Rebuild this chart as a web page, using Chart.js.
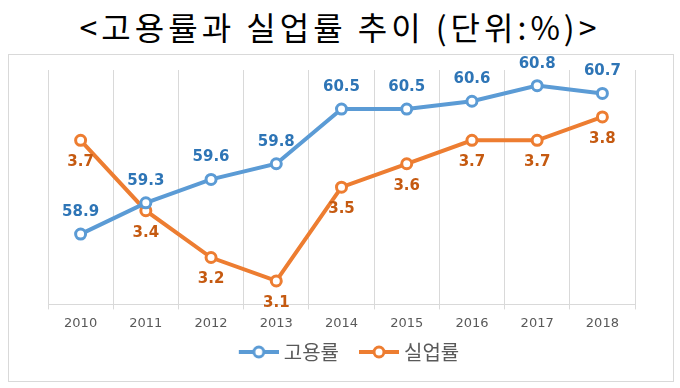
<!DOCTYPE html>
<html>
<head>
<meta charset="utf-8">
<script src="https://cdn.jsdelivr.net/npm/chart.js@4"></script>
<style>
    body { margin: 0; width: 680px; height: 388px; background: #fff; position: relative; overflow: hidden; }
    #title { position: absolute; left: 0; top: 6px; width: 680px; text-align: center; font-family: 'Noto Sans CJK KR', sans-serif; font-size: 32px; letter-spacing: 4px; color: #000; line-height: 40px; }
    #frame { position: absolute; left: 8px; top: 54px; width: 664px; height: 326px; border: 1px solid #d9d9d9; }
</style>
</head>
<body>
<div id="title">&lt;고용률과 실업률 추이 (단위:%)&gt;</div>
<div id="frame"><canvas id="chart" width="664" height="326"></canvas></div>
<script>
// ========================================
// DATA
// ========================================
const years = ['2010', '2011', '2012', '2013', '2014', '2015', '2016', '2017', '2018'];
const employmentRate = [58.9, 59.3, 59.6, 59.8, 60.5, 60.5, 60.6, 60.8, 60.7];
const unemploymentRate = [3.7, 3.4, 3.2, 3.1, 3.5, 3.6, 3.7, 3.7, 3.8];
const seriesNames = ['고용률', '실업률'];

const BLUE = '#5b9bd5';
const ORANGE = '#ed7d31';

// legend marker: line with hollow circle (transparent gap on the left)
function legendMarker(color) {
    const c = document.createElement('canvas');
    c.width = 60;
    c.height = 14;
    const ctx = c.getContext('2d');
    ctx.strokeStyle = color;
    ctx.lineWidth = 4;
    ctx.beginPath();
    ctx.moveTo(20, 7);
    ctx.lineTo(60, 7);
    ctx.stroke();
    ctx.fillStyle = '#fff';
    ctx.lineWidth = 3;
    ctx.beginPath();
    ctx.arc(40, 7, 5, 0, Math.PI * 2);
    ctx.fill();
    ctx.stroke();
    return c;
}

// ========================================
// DATA LABELS PLUGIN
// ========================================
const valueLabels = {
    id: 'valueLabels',
    afterDatasetsDraw(chart) {
        const ctx = chart.ctx;
        ctx.save();
        ctx.font = 'bold 15px "DejaVu Sans"';
        ctx.textAlign = 'center';
        ctx.textBaseline = 'middle';
        chart.data.datasets.forEach((ds, i) => {
            const meta = chart.getDatasetMeta(i);
            ctx.fillStyle = ds.labelColor;
            meta.data.forEach((pt, j) => {
                const dy = ds.labelPos === 'top' ? -22 : 22;
                ctx.fillText(ds.data[j].toFixed(1), pt.x, pt.y + dy);
            });
        });
        ctx.restore();
    }
};

new Chart(document.getElementById('chart'), {
    type: 'line',
    data: {
        labels: years,
        datasets: [{
            label: seriesNames[0],
            data: employmentRate,
            yAxisID: 'y',
            borderColor: BLUE,
            backgroundColor: '#fff',
            borderWidth: 4,
            pointRadius: 5,
            pointBorderWidth: 3,
            pointBackgroundColor: '#fff',
            pointBorderColor: BLUE,
            labelColor: '#2e75b6',
            labelPos: 'top'
        }, {
            label: seriesNames[1],
            data: unemploymentRate,
            yAxisID: 'y1',
            borderColor: ORANGE,
            backgroundColor: '#fff',
            borderWidth: 4,
            pointRadius: 5,
            pointBorderWidth: 3,
            pointBackgroundColor: '#fff',
            pointBorderColor: ORANGE,
            labelColor: '#c55a11',
            labelPos: 'bottom'
        }]
    },
    options: {
        responsive: false,
        animation: false,
        layout: {
            padding: { left: 39, right: 38, top: 15, bottom: 9 }
        },
        plugins: {
            legend: {
                position: 'bottom',
                labels: {
                    usePointStyle: true,
                    pointStyleWidth: 50,
                    padding: 5,
                    color: '#595959',
                    font: { family: 'Noto Sans CJK KR', size: 20 },
                    generateLabels: function(chart) {
                        return chart.data.datasets.map((ds, i) => ({
                            text: ds.label,
                            pointStyle: legendMarker(ds.borderColor),
                            fontColor: '#595959',
                            datasetIndex: i,
                            lineWidth: 0
                        }));
                    }
                }
            },
            tooltip: { enabled: false }
        },
        scales: {
            x: {
                offset: true,
                grid: {
                    offset: true,
                    color: '#d9d9d9',
                    lineWidth: 1,
                    tickLength: 5
                },
                border: { color: '#d9d9d9' },
                ticks: {
                    color: '#595959',
                    padding: 6,
                    font: { family: 'DejaVu Sans', size: 13 }
                }
            },
            y: {
                display: false,
                min: 58,
                max: 61
            },
            y1: {
                display: false,
                min: 3,
                max: 4
            }
        }
    },
    plugins: [valueLabels]
});
</script>
</body>
</html>
